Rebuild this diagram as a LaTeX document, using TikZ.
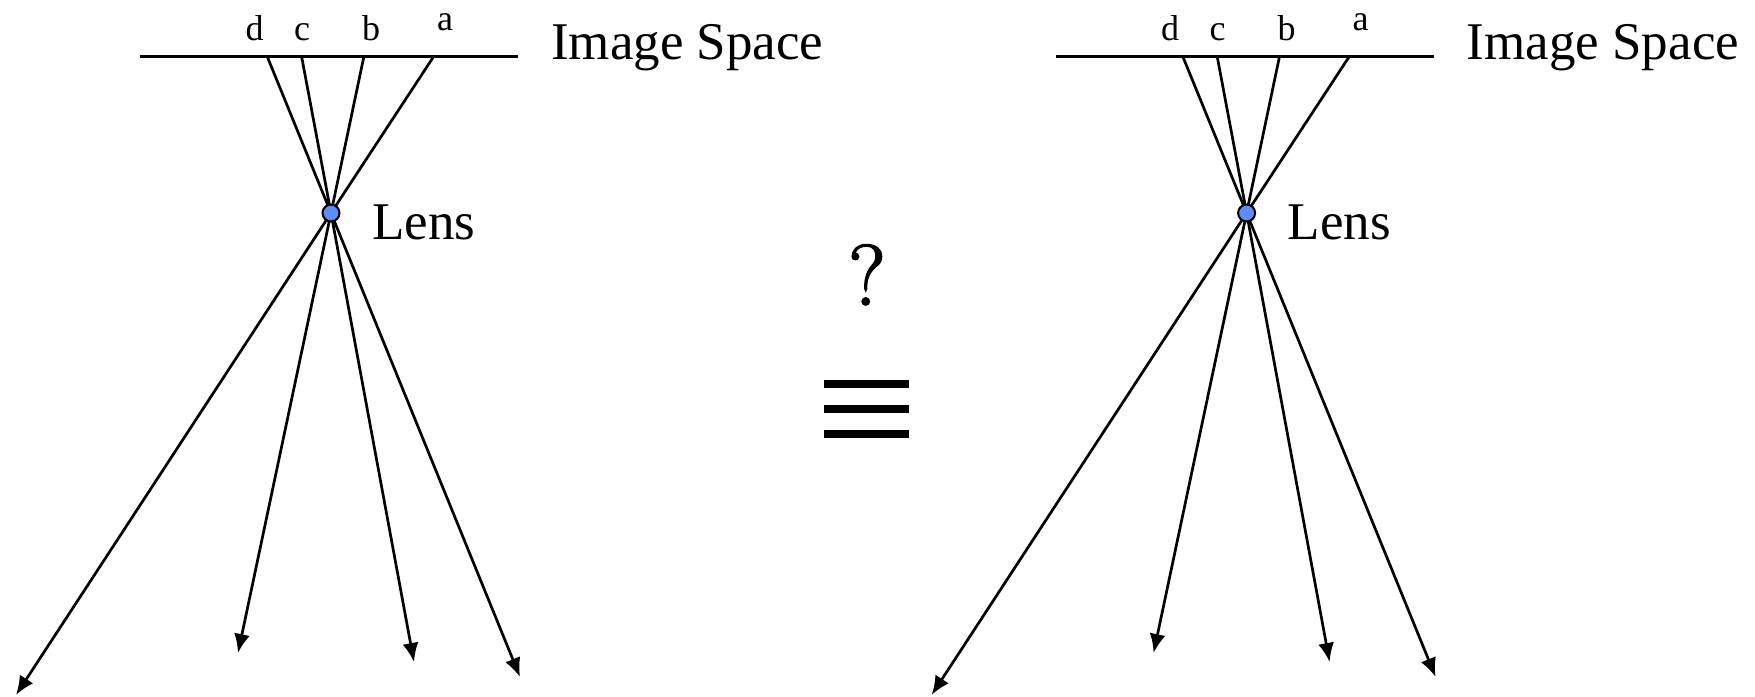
\documentclass[tikz,border=0pt]{standalone}
\usepackage{fontspec}
\setmainfont{Liberation Serif}
\newfontfamily\qfont[FakeBold=2]{Latin Modern Roman}
\usetikzlibrary{arrows.meta}
\definecolor{lensblue}{RGB}{96,140,245}
\begin{document}
\begin{tikzpicture}[x=1pt,y=-1pt,
  ray/.style={line width=2.7pt},
  arr/.style={ray,-{Latex[length=19pt,width=16pt]}},
  plane/.style={line width=3pt},
  lensdot/.style={circle,fill=lensblue,draw=black,line width=2pt,inner sep=0pt,minimum size=17pt},
  big/.style={font=\fontsize{53}{60}\selectfont,inner sep=0pt,anchor=base west},
  small/.style={font=\fontsize{36}{40}\selectfont,inner sep=0pt,anchor=base},
  huge/.style={font=\qfont\fontsize{86}{100}\selectfont,inner sep=0pt,anchor=base},
  bar/.style={fill=black,draw=none},
]
\useasboundingbox (0,0) rectangle (1755,696);

\foreach \o/\p in {0/L,915.6/R} {
  \begin{scope}[xshift=\o pt]
    \coordinate (\p pl) at (140,56);
    \coordinate (\p pr) at (518,56);
    \coordinate (\p d) at (267,56);
    \coordinate (\p c) at (301.5,56);
    \coordinate (\p b) at (364,56);
    \coordinate (\p a) at (434,56);
    \coordinate (\p lc) at (331,213);
    \coordinate (\p ta) at (16,695);
    \coordinate (\p tb) at (238,653);
    \coordinate (\p tc) at (414,662);
    \coordinate (\p td) at (520,677);
    \draw[plane] (\p pl) -- (\p pr);
    \draw[arr] (\p a) -- (\p lc) -- (\p ta);
    \draw[arr] (\p b) -- (\p lc) -- (\p tb);
    \draw[arr] (\p c) -- (\p lc) -- (\p tc);
    \draw[arr] (\p d) -- (\p lc) -- (\p td);
    \node[lensdot] (\p lens) at (\p lc) {};
    \node[small] (\p ld) at (254.5,40) {d};
    \node[small] (\p lcc) at (302,40) {c};
    \node[small] (\p lb) at (371,40) {b};
    \node[small] (\p la) at (445,30) {a};
    \node[big] (\p img) at (551,59) {Image Space};
    \node[big] (\p lenslabel) at (372,239) {Lens};
  \end{scope}
}

\node[huge] (q) at (867,305) {?};
\fill[bar] (824,380) rectangle (909,388.3);
\fill[bar] (824,405) rectangle (909,413.3);
\fill[bar] (824,430) rectangle (909,438.3);
\end{tikzpicture}
\end{document}
